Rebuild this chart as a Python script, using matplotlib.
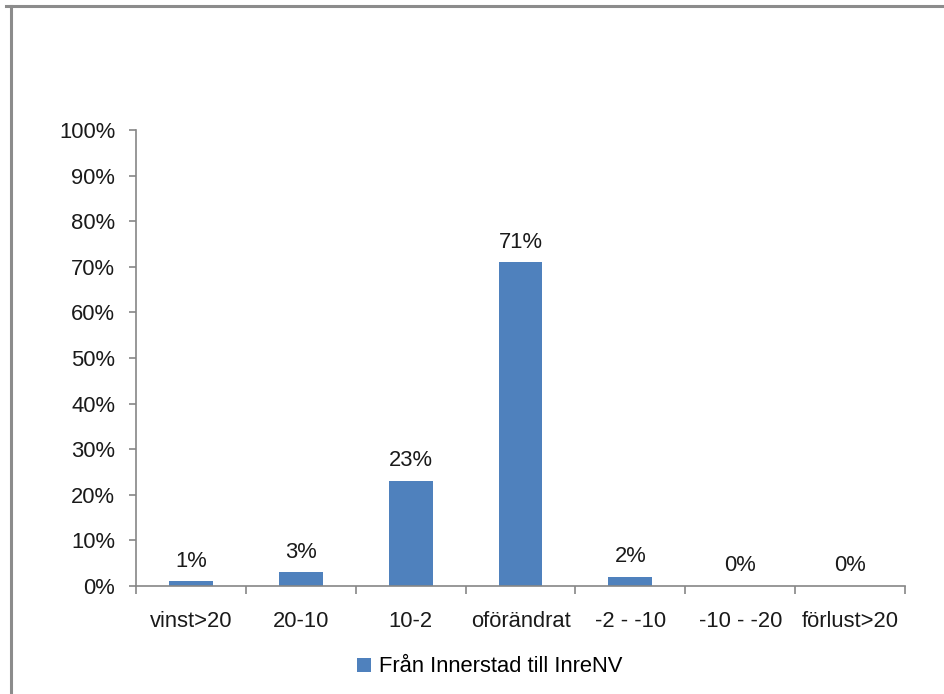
import matplotlib
matplotlib.use("Agg")
import matplotlib.pyplot as plt
from matplotlib.lines import Line2D
from matplotlib.patches import Patch
import numpy as np

plt.rcParams['font.family'] = ['Liberation Sans', 'DejaVu Sans']

categories = ["vinst>20", "20-10", "10-2", "oförändrat", "-2 - -10", "-10 - -20", "förlust>20"]
values = [1, 3, 23, 71, 2, 0, 0]
series_name = "Från Innerstad till InreNV"
y_ticks = [0, 10, 20, 30, 40, 50, 60, 70, 80, 90, 100]

W, H = 944, 694
fig = plt.figure(figsize=(W / 100, H / 100), dpi=100)
fig.patch.set_facecolor("white")

# outer frame (top and left edges)
frame_col = "#8c8c8c"
fig.add_artist(Line2D([6 / W, 1.0], [1 - 6 / H, 1 - 6 / H], color=frame_col, lw=2.2,
                      transform=fig.transFigure))
fig.add_artist(Line2D([11 / W, 11 / W], [0, 1 - 6 / H], color=frame_col, lw=2.2,
                      transform=fig.transFigure))

left, right, top, bottom = 136, 905, 130, 586
ax = fig.add_axes([left / W, 1 - bottom / H, (right - left) / W, (bottom - top) / H])

fs = 15.8
bar_col = "#4f81bd"
x = np.arange(len(categories))
ax.bar(x, values, width=0.4, color=bar_col, zorder=2)

for xi, v in zip(x, values):
    ax.annotate(f"{v}%", (xi, v), xytext=(0, 7), textcoords="offset points",
                ha="center", va="bottom", fontsize=fs, color="#1a1a1a")

ax.set_xlim(-0.5, len(categories) - 0.5)
ax.set_ylim(0, 100)
ax.set_yticks(y_ticks)
ax.set_yticklabels([f"{t}%" for t in y_ticks])
ax.set_xticks(x)
ax.set_xticklabels(categories)
ax.set_xticks(np.arange(-0.5, len(categories)), minor=True)

axis_col = "#868686"
for s in ["top", "right"]:
    ax.spines[s].set_visible(False)
for s in ["left", "bottom"]:
    ax.spines[s].set_color(axis_col)
    ax.spines[s].set_linewidth(1.2)

ax.tick_params(axis="y", direction="out", length=5, width=1.2, color=axis_col,
               labelsize=fs, labelcolor="#1a1a1a", pad=10)
ax.tick_params(axis="x", which="major", length=0, labelsize=fs, labelcolor="#1a1a1a", pad=18)
ax.tick_params(axis="x", which="minor", direction="out", length=6, width=1.2, color=axis_col)

handles = [Patch(facecolor=bar_col, edgecolor="none")]
fig.legend(handles, [series_name], loc="center", bbox_to_anchor=(490 / W, 1 - 667 / H),
           frameon=False, fontsize=fs, handlelength=0.6, handleheight=0.6, handletextpad=0.4)

fig.savefig("out.png", dpi=100, facecolor="white")
